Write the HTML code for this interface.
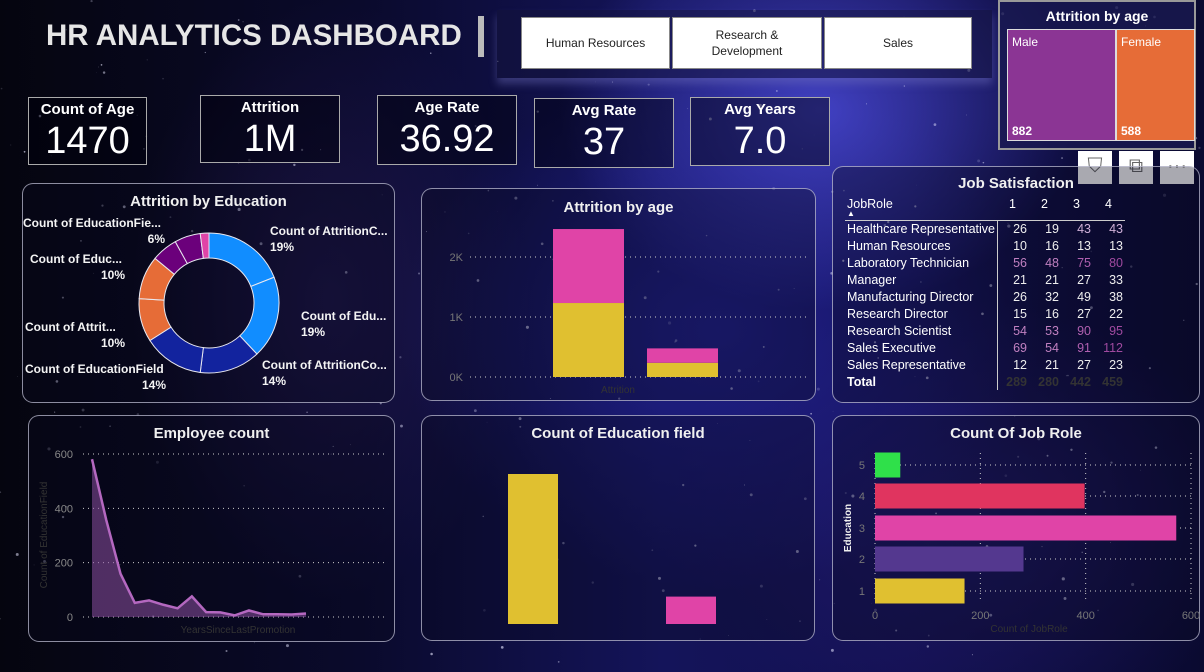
<!DOCTYPE html>
<html><head><meta charset="utf-8"><style>
*{margin:0;padding:0;box-sizing:border-box}
body{width:1204px;height:672px;overflow:hidden;font-family:"Liberation Sans",sans-serif;color:#fff;position:relative;
background:
radial-gradient(ellipse 260px 200px at 820px 110px,rgba(80,80,230,.75),transparent),
radial-gradient(ellipse 320px 260px at 720px 330px,rgba(40,40,170,.6),transparent),
radial-gradient(ellipse 300px 220px at 960px 520px,rgba(40,30,120,.55),transparent),
radial-gradient(ellipse 200px 300px at 330px 300px,rgba(60,40,120,.35),transparent),
linear-gradient(90deg,#05050f 0%,#0a0a2c 30%,#14145a 55%,#121050 75%,#0a0a30 100%);}
.abs{position:absolute}
.panel{position:absolute;border:1px solid rgba(200,200,220,.7);border-radius:11px;background:rgba(10,10,30,.35)}
.ptitle{position:absolute;left:0;right:0;text-align:center;font-weight:bold;font-size:15px;color:#f0f0f0}
.kpi{position:absolute;border:1px solid #aaa;background:rgba(0,0,10,.45);text-align:center}
.kpi .t{font-weight:bold;font-size:15px;margin-top:3px;font-family:"Liberation Sans Narrow","Liberation Sans",sans-serif}
.kpi .v{font-size:38px;margin-top:2px;font-family:"Liberation Sans Narrow","Liberation Sans",sans-serif}
.btn{position:absolute;background:#fff;color:#222;font-size:12px;border:1px solid #888;display:flex;align-items:center;justify-content:center;text-align:center;line-height:16px}
.icon{position:absolute;background:#fff;width:34px;height:33px;top:151px;color:#666;font-size:20px;text-align:center;line-height:30px}
table{border-collapse:collapse;font-size:12.5px}
svg text{font-family:"Liberation Sans",sans-serif}
</style></head><body>
<svg class="abs" style="left:0;top:0" width="1204" height="672" id="stars"></svg>

<div class="abs" style="left:46px;top:19px;font-size:29.5px;font-weight:bold;color:#e6e6e6">HR ANALYTICS DASHBOARD</div>
<div class="abs" style="left:478px;top:16px;width:6px;height:41px;background:#bbb"></div>

<div class="abs" style="left:497px;top:10px;width:495px;height:68px;background:rgba(20,20,60,.5);box-shadow:0 6px 8px rgba(120,120,200,.4)"></div>
<div class="btn" style="left:521px;top:17px;width:149px;height:52px">Human Resources</div>
<div class="btn" style="left:672px;top:17px;width:150px;height:52px">Research &amp;<br>Development</div>
<div class="btn" style="left:824px;top:17px;width:148px;height:52px">Sales</div>

<div class="abs" style="left:998px;top:0;width:198px;height:150px;background:rgba(25,25,80,.8);border:2px solid #999">
<div class="abs" style="left:0;right:0;top:6px;text-align:center;font-weight:bold;font-size:14px">Attrition by age</div>
<div class="abs" style="left:7px;top:27px;width:109px;height:112px;background:#8B3594;border:1px solid #ddd;font-size:12px;padding:5px 4px">Male<div class="abs" style="left:4px;bottom:2px;font-weight:bold">882</div></div>
<div class="abs" style="left:116px;top:27px;width:79px;height:112px;background:#E66C37;border:1px solid #ddd;font-size:12px;padding:5px 4px">Female<div class="abs" style="left:4px;bottom:2px;font-weight:bold">588</div></div>
</div>
<div class="icon" style="left:1078px">⛉</div>
<div class="icon" style="left:1119px">⧉</div>
<div class="icon" style="left:1160px">···</div>

<div class="kpi" style="left:28px;top:97px;width:119px;height:68px"><div class="t">Count of Age</div><div class="v">1470</div></div>
<div class="kpi" style="left:200px;top:95px;width:140px;height:68px"><div class="t">Attrition</div><div class="v">1M</div></div>
<div class="kpi" style="left:377px;top:95px;width:140px;height:70px"><div class="t">Age Rate</div><div class="v">36.92</div></div>
<div class="kpi" style="left:534px;top:98px;width:140px;height:70px"><div class="t">Avg Rate</div><div class="v">37</div></div>
<div class="kpi" style="left:690px;top:97px;width:140px;height:69px"><div class="t">Avg Years</div><div class="v">7.0</div></div>

<div class="panel" style="left:22px;top:183px;width:373px;height:220px"><div class="ptitle" style="top:9px">Attrition by Education</div></div>
<div class="panel" style="left:421px;top:188px;width:395px;height:213px"><div class="ptitle" style="top:10px">Attrition by age</div></div>
<div class="panel" style="left:832px;top:166px;width:368px;height:237px"><div class="ptitle" style="top:8px">Job Satisfaction</div></div>
<div class="panel" style="left:28px;top:415px;width:367px;height:227px"><div class="ptitle" style="top:9px">Employee count</div></div>
<div class="panel" style="left:421px;top:415px;width:394px;height:226px"><div class="ptitle" style="top:9px">Count of Education field</div></div>
<div class="panel" style="left:832px;top:415px;width:368px;height:226px"><div class="ptitle" style="top:9px">Count Of Job Role</div></div>

<div class="abs" style="left:845px;top:197px">
<table id="matrix"></table></div>

<svg class="abs" style="left:0;top:0" width="1204" height="672" id="charts"></svg>

<script>
// ---- data ----
const donutLabels=["Count of AttritionC...","Count of Edu...","Count of AttritionCo...","Count of EducationField","Count of Attrit...","Count of Educ...","Count of EducationFie...","Count of Attrition","Count of Education"];
const donutValues=[19,19,14,14,10,10,6,6,2];
const donutColors=["#118DFF","#118DFF","#12239E","#12239E","#E66C37","#E66C37","#6B007B","#6B007B","#E044A7"];
const ageCats=["No","Yes"];
const ageSeriesA=[1233,237];
const ageSeriesB=[1233,240];
const ageTicks=[0,1000,2000];
const ageTickLabels=["0K","1K","2K"];
const empValues=[581,357,159,52,61,45,32,76,18,17,6,24,10,10,9,13];
const empTicks=[0,200,400,600];
const eduFieldValues=[520,95];
const jobRoleCats=["1","2","3","4","5"];
const jobRoleValues=[170,282,572,398,48];
const jobRoleColors=["#E0C030","#54388F","#E044A7","#E0345F","#2FE04A"];
const jobRoleTicks=[0,200,400,600];
const roles=["Healthcare Representative","Human Resources","Laboratory Technician","Manager","Manufacturing Director","Research Director","Research Scientist","Sales Executive","Sales Representative"];
const sat1=[26,10,56,21,26,15,54,69,12];
const sat2=[19,16,48,21,32,16,53,54,21];
const sat3=[43,13,75,27,49,27,90,91,27];
const sat4=[43,13,80,33,38,22,95,112,23];

const NS="http://www.w3.org/2000/svg";
const svg=document.getElementById('charts');
function mk(tag,attrs,parent){const e=document.createElementNS(NS,tag);for(const k in attrs)e.setAttribute(k,attrs[k]);(parent||svg).appendChild(e);return e;}

// stars
const st=document.getElementById('stars');
let seed=7;function rnd(){seed=(seed*16807)%2147483647;return seed/2147483647;}
for(let i=0;i<260;i++){const c=document.createElementNS(NS,'circle');c.setAttribute('cx',rnd()*1204);c.setAttribute('cy',rnd()*672);c.setAttribute('r',rnd()*1.3+0.3);c.setAttribute('fill','rgba(230,230,255,'+(rnd()*0.5+0.15)+')');st.appendChild(c);}

// donut
(function(){
 const cx=209,cy=303,R=70,r=45;const tot=donutValues.reduce((a,b)=>a+b,0);let a0=-Math.PI/2;
 const g=mk('g',{});
 donutValues.forEach((v,i)=>{const a1=a0+v/tot*2*Math.PI;const big=(a1-a0)>Math.PI?1:0;
  const p=`M${cx+R*Math.cos(a0)},${cy+R*Math.sin(a0)} A${R},${R} 0 ${big} 1 ${cx+R*Math.cos(a1)},${cy+R*Math.sin(a1)} L${cx+r*Math.cos(a1)},${cy+r*Math.sin(a1)} A${r},${r} 0 ${big} 0 ${cx+r*Math.cos(a0)},${cy+r*Math.sin(a0)} Z`;
  const s=mk('path',{d:p,fill:donutColors[i],stroke:'#e8e8f0','stroke-width':1},g);
  
  
  a0=a1;});
 const labs=[[270,235,'start',0],[301,320,'start',1],[262,369,'start',2],[25,373,'start',3],[25,331,'start',4],[30,263,'start',5],[23,227,'start',6]];
 labs.forEach((L,k)=>{const t=mk('text',{x:L[0],y:L[1],fill:'#f4f4f4','font-size':12,'font-weight':'bold'},g);t.textContent=donutLabels[k];
  
  
  const pct=mk('text',{x:k>=3?(k==3?166:(k==6?165:125)):L[0],y:L[1]+16,fill:'#f4f4f4','font-size':12,'font-weight':'bold','text-anchor':k>=3?'end':'start'},g);pct.textContent=donutValues[k]+'%';
  
  });
})();

// attrition by age stacked
(function(){
 const y0=377,pxPer=60/1000;const y=v=>y0-v*pxPer;const xs=[553,647],w=71;
 ageTicks.forEach((t,i)=>{mk('line',{x1:470,x2:806,y1:y(t),y2:y(t),stroke:'#ccc','stroke-dasharray':'1,4'});
  const tx=mk('text',{x:463,y:y(t)+4,fill:'#777','font-size':11,'text-anchor':'end'});tx.textContent=ageTickLabels[i];
  
  });
 ageCats.forEach((c,i)=>{const a=ageSeriesA[i],b=ageSeriesB[i];
  const r1=mk('rect',{x:xs[i],y:y(a),width:w,height:a*pxPer,fill:'#E0C030'});
  
  
  const r2=mk('rect',{x:xs[i],y:y(a+b),width:w,height:b*pxPer,fill:'#E044A7'});
  
  });
 const xt=mk('text',{x:618,y:393,fill:'#333','font-size':10,'text-anchor':'middle'});xt.textContent='Attrition';
 
 
})();

// employee count area
(function(){
 const y0=617,py=163/600,x0=92,dx=(306-92)/(empValues.length-1);const X=i=>x0+i*dx,Y=v=>y0-v*py;
 empTicks.forEach(t=>{mk('line',{x1:83,x2:385,y1:Y(t),y2:Y(t),stroke:'#ccc','stroke-dasharray':'1,4'});
  const tx=mk('text',{x:73,y:Y(t)+4,fill:'#888','font-size':11,'text-anchor':'end'});tx.textContent=t;
  
  });
 let d='M'+X(0)+','+y0;empValues.forEach((v,i)=>d+=' L'+X(i)+','+Y(v));d+=' L'+X(empValues.length-1)+','+y0+'Z';
 const ar=mk('path',{d:d,fill:'rgba(140,80,160,.55)'});
 const ln=mk('polyline',{points:empValues.map((v,i)=>X(i)+','+Y(v)).join(' '),fill:'none',stroke:'#B468C0','stroke-width':2.5});
 
 
 const xt=mk('text',{x:238,y:633,fill:'#333','font-size':10,'text-anchor':'middle'});xt.textContent='YearsSinceLastPromotion';
 
 
 const yt=mk('text',{x:0,y:0,fill:'#333','font-size':10,'text-anchor':'middle',transform:'translate(47,535) rotate(-90)'});yt.textContent='Count of EducationField';
 
 
})();

// education field bars
(function(){
 const y0=624,py=150/520;const xs=[508,666],cols=['#E0C030','#E044A7'];
 eduFieldValues.forEach((v,i)=>{const r=mk('rect',{x:xs[i],y:y0-v*py,width:50,height:v*py,fill:cols[i]});
  
  });
})();

// job role horizontal bars
(function(){
 const x0=875,px=316/600;const X=v=>x0+v*px;const yc=[591,559,528,496,465],h=25;
 jobRoleTicks.forEach(t=>{mk('line',{x1:X(t),x2:X(t),y1:453,y2:603,stroke:'#ccc','stroke-dasharray':'1,4'});
  const tx=mk('text',{x:X(t),y:619,fill:'#777','font-size':11,'text-anchor':'middle'});tx.textContent=t;
  
  });
 jobRoleCats.forEach((c,i)=>{mk('line',{x1:x0,x2:X(600),y1:yc[i],y2:yc[i],stroke:'#ccc','stroke-dasharray':'1,4'});
  const r=mk('rect',{x:x0,y:yc[i]-h/2,width:jobRoleValues[i]*px,height:h,fill:jobRoleColors[i]});
  
  
  const tx=mk('text',{x:865,y:yc[i]+4,fill:'#777','font-size':11,'text-anchor':'end'});tx.textContent=c;
  
  });
 const yt=mk('text',{x:0,y:0,fill:'#eee','font-size':10,'font-weight':'bold','text-anchor':'middle',transform:'translate(851,528) rotate(-90)'});yt.textContent='Education';
 
 
 const xt=mk('text',{x:1029,y:632,fill:'#333','font-size':10,'text-anchor':'middle'});xt.textContent='Count of JobRole';
 
 
})();

// matrix
(function(){
 const tb=document.getElementById('matrix');
 const pinkRows=[2,6,7];
 let h='<tr style="height:23px;border-bottom:1px solid #ccc"><td style="width:152px;padding-left:2px;vertical-align:top;padding-top:0px">JobRole<div style="font-size:8px;line-height:6px">▲</div></td>';
 ['1','2','3','4'].forEach(c=>h+='<td style="width:32px;text-align:left;padding-left:12px;vertical-align:top;padding-top:0px">'+c+'</td>');
 h+='</tr>';
 roles.forEach((r,i)=>{const pk=pinkRows.includes(i);
  h+='<tr style="height:17px"><td style="padding-left:2px;border-right:1px solid #ccc">'+r+'</td>';
  [sat1,sat2,sat3,sat4].forEach((s,j)=>{let col='#eee';if(pk)col=j==0||j==1?'#c080c0':(j==2?'#b060b0':'#a04aa0');if(!pk&&j>=2&&i==0)col='#d0b0d8';
   h+='<td style="text-align:right;padding-right:2px;color:'+col+'">'+s[i]+'</td>';});
  h+='</tr>';});
 const tot=[sat1,sat2,sat3,sat4].map(s=>s.reduce((a,b)=>a+b,0));
 h+='<tr style="height:17px"><td style="padding-left:2px;font-weight:bold;border-right:1px solid #ccc">Total</td>';
 tot.forEach(t=>h+='<td style="text-align:right;padding-right:2px;color:#333;font-weight:bold">'+t+'</td>');
 h+='</tr>';tb.innerHTML=h;
})();
</script>
</body></html>
